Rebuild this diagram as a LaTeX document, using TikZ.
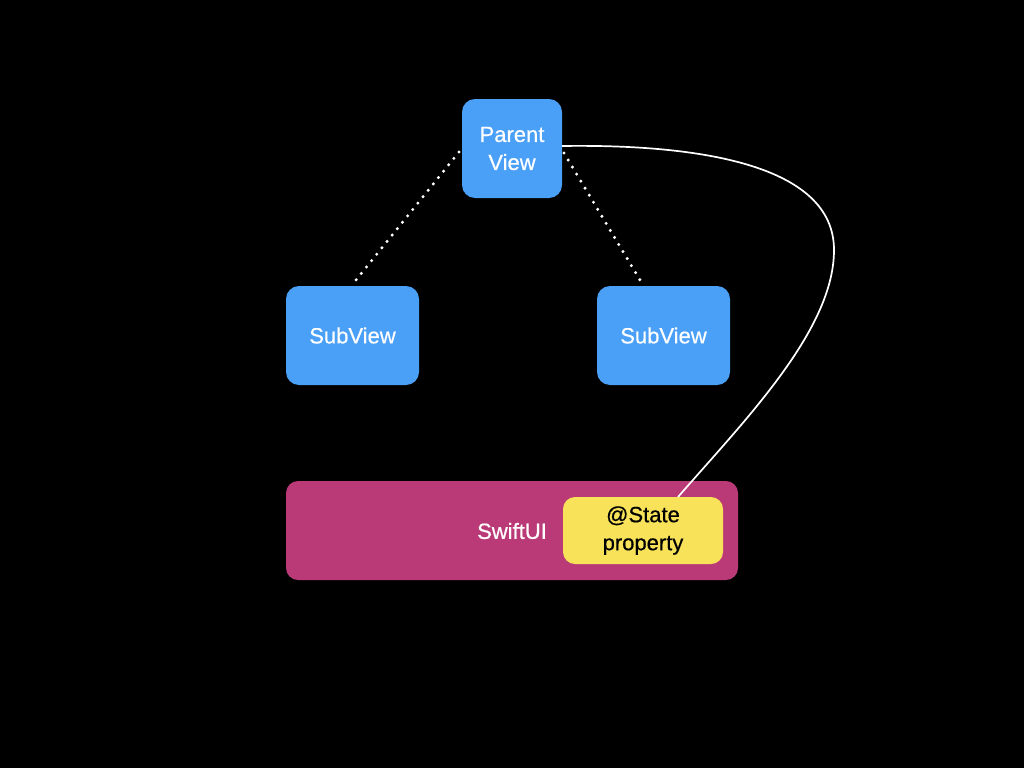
\documentclass[tikz,border=0pt]{standalone}
\usepackage{fontspec}
\setmainfont{Liberation Sans}
\newfontfamily\medfont[FakeBold=0.5]{Liberation Sans}
\definecolor{vblue}{HTML}{4A9FF6}
\definecolor{vmag}{HTML}{BA3A78}
\definecolor{vyel}{HTML}{F7E25A}
\begin{document}
\begin{tikzpicture}[x=1pt,y=-1pt,
  lbl/.style={font=\medfont\fontsize{22}{28}\selectfont},
  viewbox/.style={lbl,fill=vblue,rounded corners=13pt,text=white,align=center,inner sep=0pt},
  dotline/.style={white,line width=3.4pt,line cap=round,dash pattern=on 0pt off 8.2pt},
  link/.style={white,line width=1.7pt}]
\fill[black] (0,0) rectangle (1024,768);
\useasboundingbox (0,0) rectangle (1024,768);
\node[viewbox,minimum width=100pt,minimum height=99pt] (parent) at (512,148.5) {Parent\\View};
\node[viewbox,minimum width=133pt,minimum height=99pt] (sub1) at (352.5,335.5) {SubView};
\node[viewbox,minimum width=133pt,minimum height=99pt] (sub2) at (663.5,335.5) {SubView};
\node[fill=vmag,rounded corners=12pt,minimum width=452pt,minimum height=99pt,inner sep=0pt] (swift) at (512,530.5) {};
\node[lbl,text=white] (swiftlbl) at (512,531) {SwiftUI};
\node[lbl,fill=vyel,rounded corners=12pt,minimum width=160pt,minimum height=67pt,inner sep=0pt,align=center] (state) at (643,530.5) {@State\\property};
\coordinate (pl) at (459,152);
\coordinate (pr) at (564,153);
\coordinate (s1) at (356,280);
\coordinate (s2) at (640,280);
\draw[dotline] (pl) -- (s1);
\draw[dotline] (pr) -- (s2);
\coordinate (pout) at (562,146);
\coordinate (mid) at (834,250);
\coordinate (sin) at (678,497);
\draw[link] (pout) .. controls (700,144) and (834,165) .. (mid) .. controls (834,330) and (745,420) .. (sin);
\end{tikzpicture}
\end{document}
